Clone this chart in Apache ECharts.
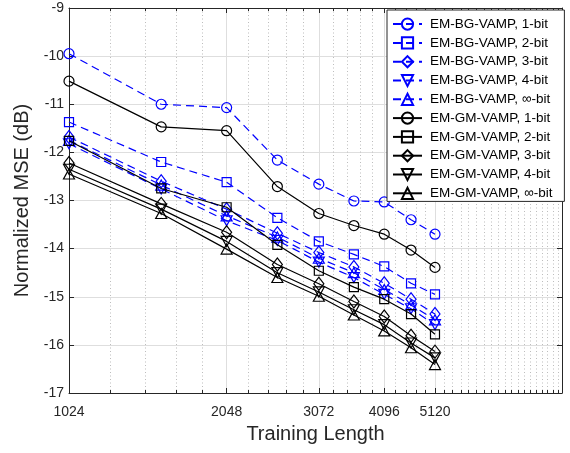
<!DOCTYPE html>
<html><head><meta charset="utf-8">
<script src="https://cdn.jsdelivr.net/npm/echarts@6/dist/echarts.min.js"></script>
<style>html,body{margin:0;padding:0;background:#fff}#c{width:570px;height:453px}</style>
</head><body><div id="c"></div>
<script>
const trainingLengths = [1024, 1536, 2048, 2560, 3072, 3584, 4096, 4608, 5120];
const xTickLabels = [1024, 2048, 3072, 4096, 5120];
const xMinorTicks = [1228.8, 1433.6, 1638.4, 1843.2, 2252.8, 2457.6, 2662.4, 2867.2, 3276.8, 3481.6, 3686.4, 3891.2, 4300.8, 4505.6, 4710.4, 4915.2, 5324.8, 5529.6, 5734.4, 5939.2, 6144, 6348.8, 6553.6, 6758.4, 6963.2, 7168, 7372.8, 7577.6, 7782.4, 7987.2, 8192, 8396.8, 8601.6, 8806.4];
const yTickLabels = [-17, -16, -15, -14, -13, -12, -11, -10, -9];

const bg1   = [-9.95, -11.00, -11.07, -12.16, -12.66, -13.01, -13.03, -13.40, -13.70];
const bg2   = [-11.37, -12.20, -12.62, -13.36, -13.85, -14.12, -14.37, -14.72, -14.95];
const bg3   = [-11.68, -12.60, -13.18, -13.68, -14.08, -14.38, -14.72, -15.05, -15.36];
const bg4   = [-11.82, -12.76, -13.42, -13.83, -14.28, -14.60, -14.95, -15.25, -15.58];
const bgInf = [-11.75, -12.68, -13.32, -13.76, -14.20, -14.50, -14.85, -15.17, -15.48];
const gm1   = [-10.52, -11.47, -11.55, -12.71, -13.27, -13.52, -13.70, -14.03, -14.39];
const gm2   = [-11.76, -12.75, -13.14, -13.92, -14.46, -14.80, -15.05, -15.36, -15.78];
const gm3   = [-12.22, -13.07, -13.66, -14.33, -14.73, -15.10, -15.41, -15.81, -16.14];
const gm4   = [-12.35, -13.18, -13.85, -14.50, -14.90, -15.27, -15.58, -15.96, -16.27];
const gmInf = [-12.45, -13.27, -14.01, -14.60, -14.99, -15.38, -15.71, -16.06, -16.41];

const seriesNames = ['EM-BG-VAMP, 1-bit','EM-BG-VAMP, 2-bit','EM-BG-VAMP, 3-bit','EM-BG-VAMP, 4-bit','EM-BG-VAMP, \u221e-bit',
  'EM-GM-VAMP, 1-bit','EM-GM-VAMP, 2-bit','EM-GM-VAMP, 3-bit','EM-GM-VAMP, 4-bit','EM-GM-VAMP, \u221e-bit'];
const seriesValues = [bg1, bg2, bg3, bg4, bgInf, gm1, gm2, gm3, gm4, gmInf];

const FONT = 'Liberation Sans';
const AX = '#262626';
const markers = [
  {symbol:'circle', size:10, rotate:0},
  {symbol:'rect', size:9, rotate:0},
  {symbol:'diamond', size:[10,13], rotate:0},
  {symbol:'triangle', size:[11,10], rotate:180},
  {symbol:'triangle', size:[11,10], rotate:0}
];

const series = seriesNames.map((name, i) => {
  const blue = i < 5;
  const color = blue ? '#0000ff' : '#000000';
  const m = markers[i % 5];
  return {
    name, type:'line', xAxisIndex:0, yAxisIndex:0,
    data: trainingLengths.map((x, k) => [x, seriesValues[i][k]]),
    symbol: m.symbol, symbolSize: m.size, symbolRotate: m.rotate, showSymbol:true,
    itemStyle: {color:'none', borderColor: color, borderWidth: 1.2},
    lineStyle: {color: color, width: 1.2, type: blue ? [8,5] : 'solid'},
    emphasis: {disabled:true}, z: blue ? 3 : 4
  };
});

function xAx(extra) {
  return Object.assign({
    type:'log', logBase:2, min:1024, max:8950, gridIndex:0,
    axisLine:{show:false}, axisLabel:{show:false},
    axisTick:{show:false}, splitLine:{show:false}, minorTick:{show:false}, minorSplitLine:{show:false}
  }, extra);
}

const gridRect = {left:69, top:8, width:493, height:385, containLabel:false};

const option = {
  animation:false,
  backgroundColor:'#ffffff',
  textStyle:{fontFamily:FONT},
  grid:[Object.assign({}, gridRect), Object.assign({}, gridRect)],
  legend:{
    data: seriesNames, orient:'vertical', left:387, top:10,
    padding:[6,12,0,5], itemWidth:29, itemHeight:14, itemGap:2.6,
    backgroundColor:'#ffffff', borderColor:AX, borderWidth:1, borderRadius:0,
    selectedMode:false, z:20,
    textStyle:{fontFamily:FONT, fontSize:13.5, color:'#000', lineHeight:14, padding:[0,0,0,3]}
  },
  xAxis: [
    xAx({position:'bottom',
      name:'Training Length', nameLocation:'middle', nameGap:31,
      nameTextStyle:{fontFamily:FONT, fontSize:20, color:AX},
      axisLine:{show:true, onZero:false, lineStyle:{color:AX, width:1}},
      axisLabel:{show:true, customValues:xTickLabels, margin:12, fontSize:14, color:AX, fontFamily:FONT,
        formatter: v => String(Math.round(v))},
      axisTick:{show:true, inside:true, length:5, customValues:xTickLabels, lineStyle:{color:AX}},
      splitLine:{show:true, lineStyle:{color:'#dedede', width:1}}
    }),
    xAx({position:'top',
      axisLine:{show:true, onZero:false, lineStyle:{color:AX, width:1}},
      axisTick:{show:true, inside:true, length:5, customValues:xTickLabels, lineStyle:{color:AX}}
    }),
    xAx({position:'bottom', gridIndex:1,
      axisTick:{show:true, inside:true, length:3, customValues:xMinorTicks, lineStyle:{color:AX}},
      splitLine:{show:true, lineStyle:{color:'#bdbdbd', width:1, type:[1,2.5]}}
    }),
    xAx({position:'top', gridIndex:1,
      axisTick:{show:true, inside:true, length:3, customValues:xMinorTicks, lineStyle:{color:AX}}
    })
  ],
  yAxis: [
    {type:'value', min:-17, max:-9, interval:1, position:'left', gridIndex:0,
      name:'Normalized MSE (dB)', nameLocation:'middle', nameGap:27,
      nameTextStyle:{fontFamily:FONT, fontSize:20, color:AX},
      axisLine:{show:true, onZero:false, lineStyle:{color:AX, width:1}},
      axisLabel:{show:true, customValues:yTickLabels, margin:5, fontSize:14, color:AX, fontFamily:FONT},
      axisTick:{show:true, inside:true, length:5, lineStyle:{color:AX}},
      splitLine:{show:true, lineStyle:{color:'#dedede', width:1}}
    },
    {type:'value', min:-17, max:-9, interval:1, position:'right', gridIndex:0,
      axisLine:{show:true, onZero:false, lineStyle:{color:AX, width:1}},
      axisLabel:{show:false},
      axisTick:{show:true, inside:true, length:5, lineStyle:{color:AX}},
      splitLine:{show:false}
    },
    {type:'value', min:-17, max:-9, interval:1, position:'left', gridIndex:1,
      axisLine:{show:false}, axisLabel:{show:false}, axisTick:{show:false}, splitLine:{show:false}
    }
  ],
  series
};

const chart = echarts.init(document.getElementById('c'), null, {renderer:'canvas'});
chart.setOption(option);
</script>
</body></html>
